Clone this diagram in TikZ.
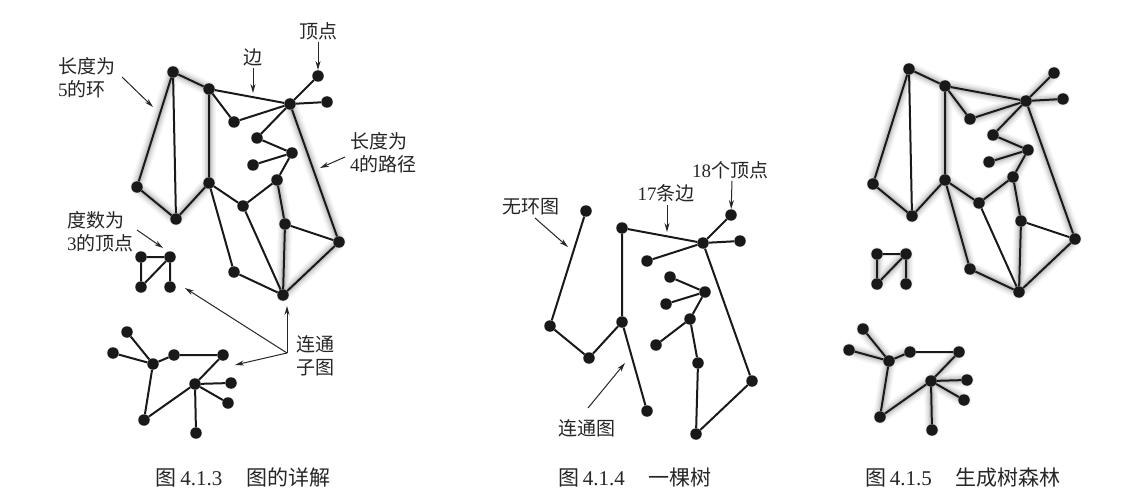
\documentclass[tikz,border=0pt]{standalone}
\usepackage{fontspec}
\setmainfont{Liberation Serif}
\newfontfamily\cjk{Noto Sans CJK SC}
\usetikzlibrary{arrows.meta}
\pgfdeclarelayer{bg}
\pgfsetlayers{bg,main}
\newcommand\zh[1]{{\cjk #1}}
% main component vertices
\newcommand\graphnodes[1]{%
 \node[dot] (#1A) at (173,72) {};
 \node[dot] (#1B) at (209,89) {};
 \node[dot] (#1C) at (290,104) {};
 \node[dot] (#1D) at (318,76) {};
 \node[dot] (#1E) at (327,102) {};
 \node[dot] (#1F) at (234,122) {};
 \node[dot] (#1G) at (257,138) {};
 \node[dot] (#1H) at (292,153) {};
 \node[dot] (#1I) at (253,165) {};
 \node[dot] (#1J) at (209,183) {};
 \node[dot] (#1K) at (137,187) {};
 \node[dot] (#1L) at (176,219) {};
 \node[dot] (#1M) at (277,180) {};
 \node[dot] (#1N) at (243,206) {};
 \node[dot] (#1O) at (285,224) {};
 \node[dot] (#1P) at (339,242) {};
 \node[dot] (#1Q) at (283,295) {};
 \node[dot] (#1R) at (234,272) {};
}
\newcommand\graphedges[1]{%
 \draw[edge] (#1A)--(#1B) (#1A)--(#1K) (#1A)--(#1L) (#1B)--(#1C) (#1B)--(#1J)
  (#1B)--(#1F) (#1F)--(#1C) (#1C)--(#1D) (#1C)--(#1E) (#1C)--(#1G) (#1G)--(#1H)
  (#1H)--(#1I) (#1H)--(#1M) (#1M)--(#1N) (#1N)--(#1J) (#1J)--(#1R) (#1R)--(#1Q)
  (#1N)--(#1Q) (#1K)--(#1L) (#1L)--(#1J) (#1M)--(#1O) (#1O)--(#1Q) (#1O)--(#1P)
  (#1C)--(#1P) (#1P)--(#1Q);
}
\newcommand\smallnodes[1]{%
 \node[dot] (#1S1) at (141,257) {};
 \node[dot] (#1S2) at (170,257) {};
 \node[dot] (#1S3) at (141,287) {};
 \node[dot] (#1S4) at (170,287) {};
 \draw[edge] (#1S1)--(#1S2) (#1S1)--(#1S3) (#1S2)--(#1S3) (#1S2)--(#1S4);
}
\newcommand\treenodes[1]{%
 \node[dot] (#1T1) at (127,332) {};
 \node[dot] (#1T2) at (113,353) {};
 \node[dot] (#1T3) at (153,364) {};
 \node[dot] (#1T4) at (174,355) {};
 \node[dot] (#1T5) at (223,355) {};
 \node[dot] (#1T6) at (195,384) {};
 \node[dot] (#1T7) at (231,383) {};
 \node[dot] (#1T8) at (228,403) {};
 \node[dot] (#1T9) at (144,420) {};
 \node[dot] (#1T10) at (196,433) {};
 \draw[edge] (#1T1)--(#1T3) (#1T2)--(#1T3) (#1T3)--(#1T4) (#1T4)--(#1T5)
  (#1T5)--(#1T6) (#1T3)--(#1T9) (#1T9)--(#1T6) (#1T6)--(#1T7) (#1T6)--(#1T8)
  (#1T6)--(#1T10);
}
\newcommand\glowpath[1]{%
 \begin{pgfonlayer}{bg}
 \draw[line width=14pt,black!4,line cap=round,line join=round] #1;
 \draw[line width=11pt,black!8,line cap=round,line join=round] #1;
 \draw[line width=8pt,black!14,line cap=round,line join=round] #1;
 \draw[line width=5pt,black!22,line cap=round,line join=round] #1;
 \end{pgfonlayer}
}
\begin{document}
\begin{tikzpicture}[x=1pt,y=-1pt,
 dot/.style={circle,fill=black!90,inner sep=0pt,minimum size=11.5pt},
 edge/.style={line width=2pt,black!90},
 ann/.style={line width=1pt,black!85,-{Stealth[length=9pt,width=5pt]}},
 lbl/.style={font=\fontsize{19}{23}\selectfont,text=black!85,inner sep=0pt,align=left},
 captxt/.style={font=\fontsize{21}{24}\selectfont,text=black!85,inner sep=0pt}]
\begin{pgfonlayer}{bg}
\useasboundingbox[fill=white] (0,0) rectangle (1141,500);
\end{pgfonlayer}

% ---------- Fig 4.1.3 ----------
\graphnodes{a}
\graphedges{a}
\smallnodes{a}
\treenodes{a}
\glowpath{(aA.center)--(aB.center)--(aJ.center)--(aL.center)--(aK.center)--cycle
 (aC.center)--(aP.center)--(aQ.center)--(aO.center)--(aM.center)}

\node[lbl] (l1) at (318,31) {\zh{顶点}};
\coordinate (l1s) at (318,42);
\draw[ann] (l1s)--(aD);
\node[lbl] (l2) at (253,57) {\zh{边}};
\coordinate (l2s) at (253,68);
\coordinate (l2e) at (253,93);
\draw[ann] (l2s)--(l2e);
\node[lbl,anchor=west] (l3) at (58,78) {\zh{长度为}\\5\zh{的环}};
\coordinate (l3s) at (122,77);
\coordinate (l3e) at (153,107);
\draw[ann] (l3s)--(l3e);
\node[lbl,anchor=west] (l4) at (350,153) {\zh{长度为}\\4\zh{的路径}};
\coordinate (l4s) at (345,157);
\coordinate (l4e) at (320,168);
\draw[ann] (l4s)--(l4e);
\node[lbl,anchor=west] (l5) at (67,232) {\zh{度数为}\\3\zh{的顶点}};
\coordinate (l5s) at (137,230);
\coordinate (l5e) at (163,248);
\draw[ann] (l5s)--(l5e);
\node[lbl,anchor=west] (l6) at (296,356) {\zh{连通}\\\zh{子图}};
\coordinate (l6s) at (287,353);
\coordinate (l6a) at (287,306);
\coordinate (l6b) at (185,288);
\coordinate (l6c) at (235,365);
\draw[ann] (l6s)--(l6a);
\draw[ann] (l6s)--(l6b);
\draw[ann] (l6s)--(l6c);
\node[captxt] (c1) at (243,478) {\zh{图}\,4.1.3\hspace{24pt}\zh{图的详解}};

% ---------- Fig 4.1.4 ----------
\begin{scope}[shift={(413,139)}]
\graphnodes{b}
\end{scope}
\draw[edge] (bA)--(bK) (bK)--(bL) (bL)--(bJ) (bJ)--(bB) (bJ)--(bR) (bB)--(bC)
 (bC)--(bD) (bC)--(bE) (bC)--(bF) (bC)--(bP) (bP)--(bQ) (bQ)--(bO) (bO)--(bM)
 (bM)--(bH) (bH)--(bG) (bH)--(bI) (bM)--(bN);
\node[lbl] (m1) at (730,170) {18\zh{个顶点}};
\coordinate (m1s) at (732,181);
\draw[ann] (m1s)--(bD);
\node[lbl] (m2) at (666,193) {17\zh{条边}};
\coordinate (m2s) at (667,205);
\coordinate (m2e) at (667,232);
\draw[ann] (m2s)--(m2e);
\node[lbl] (m3) at (531,207) {\zh{无环图}};
\coordinate (m3s) at (535,218);
\coordinate (m3e) at (568,247);
\draw[ann] (m3s)--(m3e);
\node[lbl] (m4) at (587,428) {\zh{连通图}};
\coordinate (m4s) at (588,408);
\coordinate (m4e) at (625,363);
\draw[ann] (m4s)--(m4e);
\node[captxt] (c2) at (635,478) {\zh{图}\,4.1.4\hspace{24pt}\zh{一棵树}};

% ---------- Fig 4.1.5 ----------
\begin{scope}[shift={(736,-3)}]
\graphnodes{c}
\smallnodes{c}
\treenodes{c}
\end{scope}
\graphedges{c}
\glowpath{(cK.center)--(cA.center)--(cB.center)--(cJ.center)--(cL.center)--(cK.center)
 (cB.center)--(cF.center)--(cC.center)--(cB.center)
 (cD.center)--(cC.center)--(cE.center)
 (cC.center)--(cG.center)--(cH.center)--(cI.center)
 (cH.center)--(cM.center)--(cN.center)--(cJ.center)--(cR.center)--(cQ.center)
 (cM.center)--(cO.center)--(cQ.center)--(cP.center)--(cC.center)
 (cS1.center)--(cS3.center)--(cS2.center)--(cS4.center)
 (cT1.center)--(cT3.center)--(cT2.center) (cT4.center)--(cT3.center)--(cT9.center)--(cT6.center)--(cT5.center)
 (cT7.center)--(cT6.center)--(cT8.center) (cT6.center)--(cT10.center)}
\node[captxt] (c3) at (963,478) {\zh{图}\,4.1.5\hspace{24pt}\zh{生成树森林}};
\end{tikzpicture}
\end{document}
